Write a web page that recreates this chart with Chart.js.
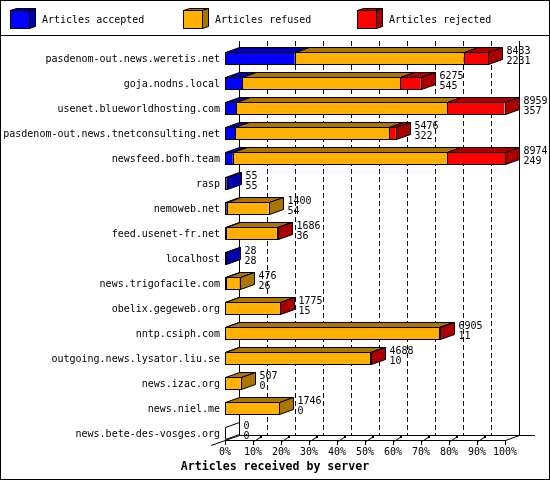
<!DOCTYPE html>
<html><head><meta charset="utf-8">
<script src="https://cdn.jsdelivr.net/npm/chart.js@4/dist/chart.umd.min.js"></script>
<style>html,body{margin:0;padding:0;background:#fff}canvas{display:block}</style>
</head><body>
<canvas id="c" width="550" height="480"></canvas>
<script>
// ---- data ----
const hosts = [
  'pasdenom-out.news.weretis.net','goja.nodns.local','usenet.blueworldhosting.com',
  'pasdenom-out.news.tnetconsulting.net','newsfeed.bofh.team','rasp','nemoweb.net',
  'feed.usenet-fr.net','localhost','news.trigofacile.com','obelix.gegeweb.org',
  'nntp.csiph.com','outgoing.news.lysator.liu.se','news.izac.org','news.niel.me',
  'news.bete-des-vosges.org'
];
const offered  = [8433, 6275, 8959, 5476, 8974, 55, 1400, 1686, 28, 476, 1775, 6905, 4688, 507, 1746, 0];
const accepted = [2231,  545,  357,  322,  249, 55,   54,   36, 28,  26,   15,   11,   10,   0,    0, 0];
const refused  = [5419, 5074, 6769, 4945, 6856,  0, 1346, 1620,  0, 450, 1740, 6850, 4650, 507, 1746, 0];
const rejected = [ 783,  656, 1833,  209, 1869,  0,    0,   30,  0,   0,   20,   44,   28,   0,    0, 0];
const seriesNames = ['Articles accepted', 'Articles refused', 'Articles rejected'];
const xTickPercents = [0, 10, 20, 30, 40, 50, 60, 70, 80, 90, 100];
const axisTitle = 'Articles received by server';

// ---- style ----
const FRONT = ['#0000ff', '#ffb000', '#ff0000'];
const SHADE = ['#0000aa', '#aa7500', '#aa0000'];
const DX = 14, DY = 5;
const FAM = '"DejaVu Sans Mono", "Liberation Mono", monospace';
const FONT = '10px ' + FAM;
const maxTotal = Math.max(...offered);

function poly(ctx, pts, fill) {
  ctx.beginPath();
  ctx.moveTo(pts[0][0], pts[0][1]);
  for (let i = 1; i < pts.length; i++) ctx.lineTo(pts[i][0], pts[i][1]);
  ctx.closePath();
  if (fill) { ctx.fillStyle = fill; ctx.fill(); }
  ctx.stroke();
}
function line(ctx, x1, y1, x2, y2) {
  ctx.beginPath(); ctx.moveTo(x1, y1); ctx.lineTo(x2, y2); ctx.stroke();
}
const R = v => Math.round(v) + 0.5;

const plugin3d = {
  id: 'bars3d',
  beforeDraw(chart) {
    const ctx = chart.ctx;
    ctx.save(); ctx.fillStyle = '#fff'; ctx.fillRect(0, 0, chart.width, chart.height); ctx.restore();
  },
  beforeDatasetsDraw(chart) {
    const { ctx, chartArea: a, scales: { x } } = chart;
    const top = Math.round(a.top) - 6;          // back wall top
    const frontY = Math.round(a.bottom) - 7;     // front floor edge
    const backY = frontY - DY;
    const x0 = Math.round(x.getPixelForValue(0));
    const x1 = Math.round(x.getPixelForValue(maxTotal));
    ctx.save();
    ctx.strokeStyle = '#000'; ctx.lineWidth = 1;
    // dashed grid lines on back wall
    ctx.setLineDash([5, 3]);
    x.ticks.forEach((t, i) => {
      if (i === 0 || i === x.ticks.length - 1) return;
      const px = Math.round(x.getPixelForValue(t.value)) + DX;
      line(ctx, px + 0.5, top, px + 0.5, backY);
    });
    ctx.setLineDash([]);
    // back walls
    line(ctx, x0 + DX + 0.5, top, x0 + DX + 0.5, backY + 0.5);
    line(ctx, x1 + DX + 0.5, top, x1 + DX + 0.5, backY + 0.5);
    // floor
    line(ctx, x0 + DX, backY + 0.5, x1 + DX + 16, backY + 0.5);
    line(ctx, x0, frontY + 0.5, x1 + 1, frontY + 0.5);
    line(ctx, x0 - DX, frontY + 0.5 + DY, x0 + DX + 0.5, backY + 0.5);
    line(ctx, x1 + 0.5, frontY + 0.5, x1 + DX + 0.5, backY + 0.5);
    // 3D tick marks
    x.ticks.forEach((t, i) => {
      const px = Math.round(x.getPixelForValue(t.value));
      line(ctx, px + 0.5, frontY, px + 0.5, frontY + 5);
      if (i > 0 && i < x.ticks.length - 1) {
        line(ctx, px + 1, frontY + 1.5, px + 8, backY + 2);
        ctx.fillStyle = '#000';
        ctx.fillRect(px + 7, backY, 2, 3);
      }
    });
    ctx.restore();
  },
  afterDatasetsDraw(chart) {
    const { ctx, scales: { x } } = chart;
    const metas = [0, 1, 2].map(d => chart.getDatasetMeta(d));
    ctx.save();
    ctx.strokeStyle = '#000'; ctx.lineWidth = 1;
    hosts.forEach((h, i) => {
      let last = -1, end = x.getPixelForValue(0), yT = 0, yB = 0, cy = 0;
      metas.forEach((m, d) => {
        const el = m.data[i];
        const p = el.getProps(['x', 'y', 'base', 'height'], true);
        cy = p.y; yT = R(p.y - p.height / 2) - 1; yB = R(p.y + p.height / 2) - 1;
        const v = chart.data.datasets[d].data[i];
        if (v > 0) {
          last = d;
          const a0 = R(Math.min(p.base, p.x)), a1 = R(Math.max(p.base, p.x));
          end = Math.max(end, a1);
          // top face
          poly(ctx, [[a0, yT], [a1, yT], [a1 + DX, yT - DY], [a0 + DX, yT - DY]], SHADE[d]);
          // front outline
          ctx.strokeRect(a0, yT, a1 - a0, yB - yT);
        }
      });
      if (last >= 0) {
        poly(ctx, [[end, yT], [end + DX, yT - DY], [end + DX, yB - DY], [end, yB]], SHADE[last]);
      } else {
        const e = R(x.getPixelForValue(0));
        end = e;
        poly(ctx, [[e, yT], [e + DX, yT - DY], [e + DX, yB - DY], [e, yB]], '#fff');
      }
      // value labels
      ctx.fillStyle = '#000';
      ctx.font = FONT; ctx.textAlign = 'left'; ctx.textBaseline = 'middle';
      ctx.fillText(String(offered[i]), end + DX + 4, cy - 8);
      ctx.fillText(String(accepted[i]), end + DX + 4, cy + 2);
    });
    ctx.restore();
  },
  afterDraw(chart) {
    const ctx = chart.ctx;
    ctx.save();
    ctx.strokeStyle = '#000'; ctx.lineWidth = 1;
    ctx.strokeRect(0.5, 0.5, chart.width - 1, chart.height - 1);
    line(ctx, 0, 35.5, chart.width, 35.5);
    // legend
    const lx = [10, 183, 357];
    chart.data.datasets.forEach((ds, d) => {
      const cx = lx[d], cyT = 10, w = 19, hh = 18, dx = 6, dy = 2;
      ctx.fillStyle = ds.backgroundColor;
      ctx.fillRect(cx, cyT, w, hh);
      poly(ctx, [[cx + 0.5, cyT + 0.5], [cx + dx + 0.5, cyT - dy + 0.5], [cx + w + dx + 0.5, cyT - dy + 0.5], [cx + w + 0.5, cyT + 0.5]], SHADE[d]);
      poly(ctx, [[cx + w + 0.5, cyT + 0.5], [cx + w + dx + 0.5, cyT - dy + 0.5], [cx + w + dx + 0.5, cyT + hh - dy + 0.5], [cx + w + 0.5, cyT + hh + 0.5]], SHADE[d]);
      ctx.strokeRect(cx + 0.5, cyT + 0.5, w, hh);
      ctx.fillStyle = '#000';
      ctx.font = FONT; ctx.textAlign = 'left'; ctx.textBaseline = 'middle';
      ctx.fillText(ds.label, cx + 32, 20);
    });
    // axis title
    ctx.font = 'bold 11.6px ' + FAM;
    ctx.textAlign = 'center'; ctx.textBaseline = 'middle';
    ctx.fillStyle = '#000';
    ctx.fillText(axisTitle, chart.width / 2, 467);
    ctx.restore();
  }
};

const seriesData = [accepted, refused, rejected];
new Chart(document.getElementById('c'), {
  type: 'bar',
  data: {
    labels: hosts,
    datasets: seriesNames.map((n, d) => ({
      label: n, data: seriesData[d], backgroundColor: FRONT[d],
      borderWidth: 0, categoryPercentage: 1, barPercentage: 0.48
    }))
  },
  options: {
    indexAxis: 'y',
    responsive: false,
    animation: false,
    layout: { padding: { left: 0, right: 45, top: 46.5, bottom: 0 } },
    plugins: { legend: { display: false }, tooltip: { enabled: false } },
    scales: {
      x: {
        stacked: true, min: 0, max: maxTotal, position: 'bottom',
        grid: { display: false, drawTicks: false }, border: { display: false },
        afterBuildTicks: s => { s.ticks = xTickPercents.map(p => ({ value: p * maxTotal / 100 })); },
        afterFit: s => { s.height = 33.5; },
        ticks: {
          autoSkip: false, maxRotation: 0, minRotation: 0, padding: 0, color: '#000',
          font: { family: FAM, size: 10 },
          callback: (v, i) => xTickPercents[i] + '%'
        }
      },
      y: {
        stacked: true, position: 'left',
        grid: { display: false, drawTicks: false }, border: { display: false },
        afterFit: s => { s.width = 225; },
        ticks: { autoSkip: false, padding: 5, color: '#000', font: { family: FAM, size: 10 } }
      }
    }
  },
  plugins: [plugin3d]
});
</script>
</body></html>
